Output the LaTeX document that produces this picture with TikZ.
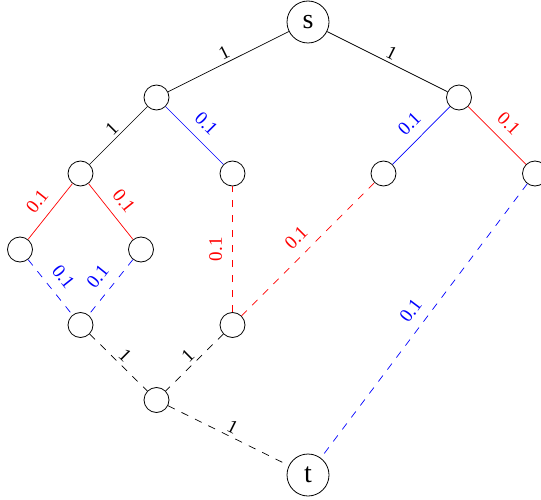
\documentclass[tikz,border=0pt]{standalone}
\usepackage{fontspec}
\setmainfont{Liberation Serif}
\begin{document}
\begin{tikzpicture}[x=1pt,y=-1pt,
  vtx/.style={draw,circle,line width=0.8pt,minimum size=25pt,inner sep=0pt},
  big/.style={draw,circle,line width=0.8pt,minimum size=42pt,inner sep=0pt,font=\fontsize{28}{30}\selectfont},
  lbl/.style={midway,sloped,above=1pt,inner sep=2pt,font=\fontsize{19}{20}\selectfont},
  lbw/.style={midway,sloped,above=8pt,inner sep=2pt,font=\fontsize{19}{20}\selectfont},
  edge/.style={line width=0.7pt},
  dsh/.style={line width=0.7pt,dash pattern=on 7.5pt off 7.5pt}]
\useasboundingbox (0,0) rectangle (541,500);
\node[big] (s) at (308,22) {s};
\node[vtx] (a) at (156.5,97.5) {};
\node[vtx] (b) at (459,97.5) {};
\node[vtx] (c) at (80.5,173.5) {};
\node[vtx] (d) at (232.5,173.5) {};
\node[vtx] (e) at (383.5,173.5) {};
\node[vtx] (f) at (535,173.5) {};
\node[vtx] (g) at (20,249.5) {};
\node[vtx] (h) at (141,249.5) {};
\node[vtx] (i) at (80.5,325) {};
\node[vtx] (j) at (232.5,325) {};
\node[vtx] (k) at (156.5,400) {};
\node[big] (t) at (308,475) {t};
\draw[edge] (s) -- node[lbl] {1} (a);
\draw[edge] (s) -- node[lbl] {1} (b);
\draw[edge] (a) -- node[lbl] {1} (c);
\draw[edge,draw=blue] (a) -- node[lbw,text=blue] {0.1} (d);
\draw[edge,draw=blue] (b) -- node[lbw,text=blue] {0.1} (e);
\draw[edge,draw=red] (b) -- node[lbw,text=red] {0.1} (f);
\draw[edge,draw=red] (c) -- node[lbw,text=red] {0.1} (g);
\draw[edge,draw=red] (c) -- node[lbw,text=red] {0.1} (h);
\draw[dsh,draw=blue] (g) -- node[lbw,text=blue] {0.1} (i);
\draw[dsh,draw=blue] (h) -- node[lbw,text=blue] {0.1} (i);
\draw[dsh,draw=red] (j) -- node[lbw,text=red] {0.1} (d);
\draw[dsh,draw=red] (j) -- node[lbw,text=red] {0.1} (e);
\draw[dsh,draw=blue] (f) -- node[lbw,text=blue] {0.1} (t);
\draw[dsh] (i) -- node[lbl] {1} (k);
\draw[dsh] (j) -- node[lbl] {1} (k);
\draw[dsh] (k) -- node[lbl] {1} (t);
\end{tikzpicture}
\end{document}
